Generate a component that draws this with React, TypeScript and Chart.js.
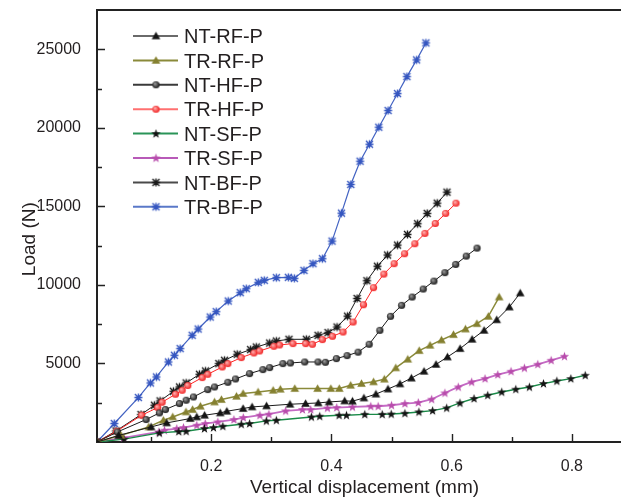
import React, { useEffect, useRef } from 'react';
import { Chart, registerables } from 'chart.js';

Chart.register(...registerables);

// ---------- data ----------
const seriesNames = ['NT-RF-P', 'TR-RF-P', 'NT-HF-P', 'TR-HF-P', 'NT-SF-P', 'TR-SF-P', 'NT-BF-P', 'TR-BF-P'];

const ntRfX = [0.01, 0.046, 0.1, 0.126, 0.165, 0.176, 0.189, 0.215, 0.226, 0.253, 0.268, 0.292, 0.331, 0.357, 0.378, 0.396, 0.422, 0.435, 0.454, 0.474, 0.494, 0.514, 0.533, 0.554, 0.574, 0.593, 0.614, 0.634, 0.654, 0.675, 0.696, 0.714];
const ntRfY = [0, 420, 960, 1215, 1494, 1596, 1704, 1851, 1959, 2130, 2232, 2296, 2404, 2448, 2486, 2550, 2614, 2600, 2804, 3050, 3370, 3700, 4070, 4500, 4940, 5412, 5946, 6537, 7109, 7780, 8591, 9481];

const trRfX = [0.01, 0.05, 0.096, 0.1205, 0.136, 0.158, 0.169, 0.182, 0.2055, 0.217, 0.242, 0.253, 0.278, 0.303, 0.315, 0.339, 0.377, 0.399, 0.413, 0.432, 0.45, 0.47, 0.488, 0.507, 0.527, 0.546, 0.564, 0.583, 0.603, 0.623, 0.642, 0.661, 0.679];
const trRfY = [0, 420, 960, 1386, 1596, 1914, 2067, 2277, 2550, 2703, 2912, 3084, 3186, 3294, 3358, 3402, 3402, 3402, 3402, 3612, 3720, 3830, 4000, 4720, 5270, 5820, 6155, 6490, 6836, 7190, 7535, 8000, 9227];

const ntHfX = [0.01, 0.044, 0.0917, 0.1138, 0.1238, 0.1472, 0.1583, 0.1705, 0.1943, 0.2055, 0.2277, 0.2405, 0.2638, 0.286, 0.2972, 0.3193, 0.3317, 0.3555, 0.3777, 0.39, 0.4083, 0.426, 0.4443, 0.4627, 0.4805, 0.4983, 0.5167, 0.5343, 0.5527, 0.5705, 0.5888, 0.6067, 0.6243, 0.6422];
const ntHfY = [0, 640, 1431, 1851, 2067, 2448, 2658, 2868, 3338, 3504, 3803, 4012, 4356, 4610, 4737, 4992, 5030, 5094, 5094, 5075, 5310, 5500, 5720, 6219, 7109, 8000, 8699, 9227, 9736, 10244, 10779, 11306, 11834, 12343];

const trHfX = [0.01, 0.0427, 0.0843, 0.111, 0.1183, 0.1405, 0.1517, 0.161, 0.185, 0.1943, 0.2183, 0.2277, 0.25, 0.271, 0.2805, 0.3043, 0.3138, 0.336, 0.3572, 0.3683, 0.385, 0.4017, 0.4193, 0.436, 0.4533, 0.47, 0.4872, 0.5043, 0.5217, 0.5388, 0.5555, 0.5727, 0.59, 0.6072];
const trHfY = [0, 687, 1704, 2194, 2531, 3040, 3294, 3593, 4101, 4311, 4776, 4992, 5373, 5666, 5793, 6092, 6175, 6264, 6264, 6219, 6518, 6728, 7001, 7637, 8740, 9825, 10690, 11351, 11987, 12623, 13278, 13913, 14550, 15205];

const ntSfX = [0.01, 0.055, 0.1138, 0.146, 0.1583, 0.1888, 0.2038, 0.2193, 0.25, 0.2638, 0.2917, 0.3083, 0.3667, 0.3805, 0.4127, 0.425, 0.4555, 0.4845, 0.4995, 0.5222, 0.5455, 0.5683, 0.5917, 0.6138, 0.6372, 0.66, 0.6833, 0.7067, 0.7293, 0.7527, 0.775, 0.7983, 0.8222];
const ntSfY = [0, 180, 579, 668, 687, 858, 922, 1005, 1132, 1176, 1342, 1386, 1596, 1641, 1704, 1704, 1760, 1760, 1780, 1830, 1914, 2000, 2168, 2486, 2766, 2976, 3186, 3358, 3504, 3720, 3886, 4038, 4248];

const trSfX = [0.01, 0.054, 0.1128, 0.1222, 0.1427, 0.1538, 0.176, 0.19, 0.211, 0.2377, 0.2533, 0.281, 0.296, 0.3238, 0.3517, 0.3655, 0.3933, 0.4088, 0.435, 0.4655, 0.4777, 0.5, 0.5222, 0.5445, 0.5667, 0.5888, 0.611, 0.6333, 0.6555, 0.6767, 0.6988, 0.721, 0.7433, 0.7655, 0.7877];
const trSfY = [0, 261, 642, 750, 858, 922, 1068, 1176, 1278, 1431, 1558, 1704, 1768, 1978, 2067, 2067, 2168, 2194, 2232, 2277, 2277, 2340, 2448, 2512, 2722, 3122, 3504, 3822, 4038, 4292, 4502, 4712, 4947, 5202, 5456];

const ntBfX = [0.01, 0.0417, 0.0833, 0.1055, 0.115, 0.1372, 0.1472, 0.1583, 0.1805, 0.1905, 0.2127, 0.2222, 0.2433, 0.2655, 0.275, 0.2972, 0.3083, 0.3293, 0.3583, 0.3777, 0.3943, 0.4093, 0.4268, 0.4427, 0.459, 0.4765, 0.4933, 0.51, 0.5265, 0.5433, 0.5593, 0.576, 0.5922];
const ntBfY = [0, 706, 1749, 2340, 2614, 3230, 3504, 3758, 4311, 4521, 4992, 5202, 5583, 5882, 6047, 6302, 6429, 6537, 6537, 6791, 6963, 7319, 8010, 9135, 10266, 11190, 11900, 12534, 13214, 13894, 14550, 15205, 15904];

const trBfX = [0.01, 0.0388, 0.0788, 0.0988, 0.1088, 0.1288, 0.1388, 0.1483, 0.1683, 0.1783, 0.1983, 0.2083, 0.2283, 0.2483, 0.2583, 0.2783, 0.2883, 0.3083, 0.3283, 0.3383, 0.3543, 0.3693, 0.385, 0.401, 0.4167, 0.4322, 0.4477, 0.4633, 0.4788, 0.4943, 0.51, 0.5255, 0.5417, 0.5572];
const trBfY = [0, 1176, 2830, 3758, 4140, 5094, 5520, 5946, 6792, 7192, 7955, 8298, 8973, 9507, 9761, 10162, 10289, 10461, 10480, 10416, 10925, 11351, 11669, 12788, 14569, 16394, 17875, 18956, 20037, 21099, 22180, 23261, 24323, 25404];

const xTickValues = [0.1, 0.2, 0.3, 0.4, 0.5, 0.6, 0.7, 0.8];
const xTickLabelled = [0.2, 0.4, 0.6, 0.8];
const yTickValues = [2500, 5000, 7500, 10000, 12500, 15000, 17500, 20000, 22500, 25000];
const yTickLabelled = [5000, 10000, 15000, 20000, 25000];

const xTitle = 'Vertical displacement (mm)';
const yTitle = 'Load (N)';

// ---------- styles ----------
const FONT = '"Liberation Sans", Arial, Helvetica, sans-serif';
const TEXT = '#231f20';

type MarkerKind = 'triangle' | 'sphere' | 'star' | 'asterisk';

function makeMarker(kind: MarkerKind, color: string, hi?: string): HTMLCanvasElement {
  const c = document.createElement('canvas');
  c.width = 11;
  c.height = 11;
  const g = c.getContext('2d')!;
  const cx = 5.5, cy = 5.5;
  if (kind === 'triangle') {
    g.beginPath();
    g.moveTo(cx, cy - 4.3);
    g.lineTo(cx + 4.3, cy + 3.3);
    g.lineTo(cx - 4.3, cy + 3.3);
    g.closePath();
    g.fillStyle = color;
    g.fill();
  } else if (kind === 'sphere') {
    const grad = g.createRadialGradient(cx - 1.2, cy - 1.2, 0.3, cx, cy, 3.8);
    grad.addColorStop(0, hi || '#aaa');
    grad.addColorStop(1, color);
    g.beginPath();
    g.arc(cx, cy, 3.6, 0, Math.PI * 2);
    g.fillStyle = grad;
    g.fill();
  } else if (kind === 'star') {
    const R = 4.8, r = 2.0;
    g.beginPath();
    for (let i = 0; i < 10; i++) {
      const ang = -Math.PI / 2 + (i * Math.PI) / 5;
      const rad = i % 2 === 0 ? R : r;
      const px = cx + rad * Math.cos(ang);
      const py = cy + 0.3 + rad * Math.sin(ang);
      if (i === 0) g.moveTo(px, py);
      else g.lineTo(px, py);
    }
    g.closePath();
    g.fillStyle = color;
    g.fill();
  } else {
    g.strokeStyle = color;
    g.lineWidth = 1.4;
    const a = 3.5;
    g.beginPath();
    g.moveTo(cx - a, cy - a); g.lineTo(cx + a, cy + a);
    g.moveTo(cx + a, cy - a); g.lineTo(cx - a, cy + a);
    g.moveTo(cx - a - 0.5, cy); g.lineTo(cx + a + 0.5, cy);
    g.moveTo(cx, cy - a - 0.5); g.lineTo(cx, cy + a + 0.5);
    g.stroke();
  }
  return c;
}

const seriesX = [ntRfX, trRfX, ntHfX, trHfX, ntSfX, trSfX, ntBfX, trBfX];
const seriesY = [ntRfY, trRfY, ntHfY, trHfY, ntSfY, trSfY, ntBfY, trBfY];
const lineColors = ['#1a1a1a', '#8a8a3a', '#1a1a1a', '#ff2424', '#1a8a48', '#c46ac4', '#1a1a1a', '#4262c2'];
const legendLineColors = ['#6a6a6a', '#8a8a3a', '#3a3a3a', '#ff7070', '#2a9458', '#b85ab8', '#4a4a4a', '#5a78c8'];
const lineWidths = [1, 1.5, 1, 1, 1.4, 1.8, 1, 1.2];
const markerSpecs: [MarkerKind, string, string?][] = [
  ['triangle', '#141414'],
  ['triangle', '#858030'],
  ['sphere', '#111111', '#9a9a9a'],
  ['sphere', '#f01818', '#ffb0b0'],
  ['star', '#141414'],
  ['star', '#b84cac'],
  ['asterisk', '#1a1a1a'],
  ['asterisk', '#3556c0'],
];

const framePlugin = {
  id: 'frameTicks',
  beforeDatasetsDraw(chart: any) {
    const { ctx, chartArea } = chart;
    const { left, right, top, bottom } = chartArea;
    const xs = chart.scales.x;
    const ys = chart.scales.y;
    ctx.save();
    ctx.strokeStyle = '#222';
    ctx.lineWidth = 2;
    ctx.beginPath();
    ctx.moveTo(right, top);
    ctx.lineTo(left, top);
    ctx.lineTo(left, bottom);
    ctx.lineTo(right, bottom);
    ctx.stroke();
    ctx.lineWidth = 1.4;
    ctx.beginPath();
    xs.ticks.forEach((t: any) => {
      const px = Math.round(xs.getPixelForValue(t.value)) + 0.5;
      const len = xTickLabelled.includes(t.value) ? 8 : 5;
      ctx.moveTo(px, bottom);
      ctx.lineTo(px, bottom - len);
    });
    ys.ticks.forEach((t: any) => {
      const py = Math.round(ys.getPixelForValue(t.value)) + 0.5;
      const len = yTickLabelled.includes(t.value) ? 8 : 5;
      ctx.moveTo(left, py);
      ctx.lineTo(left + len, py);
    });
    ctx.stroke();
    ctx.restore();
  },
};

function makeLegendPlugin(markers: HTMLCanvasElement[]) {
  return {
    id: 'innerLegend',
    afterDatasetsDraw(chart: any) {
      const { ctx, chartArea } = chart;
      const { left, top } = chartArea;
      ctx.save();
      ctx.font = `20px ${FONT}`;
      ctx.textBaseline = 'alphabetic';
      ctx.textAlign = 'left';
      seriesNames.forEach((name, i) => {
        const y = top + 26 + i * 24.4;
        ctx.strokeStyle = legendLineColors[i];
        ctx.lineWidth = 2;
        ctx.beginPath();
        ctx.moveTo(left + 36, y);
        ctx.lineTo(left + 81, y);
        ctx.stroke();
        const m = markers[i];
        ctx.drawImage(m, left + 59 - m.width / 2, y - m.height / 2);
        ctx.fillStyle = TEXT;
        ctx.fillText(name, left + 87, y + 7.2);
      });
      ctx.restore();
    },
  };
}

export default function App() {
  const ref = useRef<HTMLCanvasElement | null>(null);

  useEffect(() => {
    const canvas = ref.current;
    if (!canvas) return;
    const markers = markerSpecs.map(([k, c, h]) => makeMarker(k, c, h));
    const datasets = seriesNames.map((name, i) => ({
      label: name,
      data: seriesX[i].map((x, j) => ({ x, y: seriesY[i][j] })),
      borderColor: lineColors[i],
      backgroundColor: lineColors[i],
      borderWidth: lineWidths[i],
      pointStyle: markers[i] as any,
      pointRadius: 5,
      pointHoverRadius: 5,
      tension: 0,
      fill: false,
    }));

    const chart = new Chart(canvas, {
      type: 'line',
      data: { datasets },
      options: {
        responsive: false,
        animation: false,
        devicePixelRatio: 1,
        events: [],
        layout: { padding: { top: 10, right: 8, left: 0, bottom: 0 } },
        plugins: {
          legend: { display: false },
          tooltip: { enabled: false },
        },
        scales: {
          x: {
            type: 'linear',
            min: 0.01,
            max: 0.9,
            afterBuildTicks: (s: any) => {
              s.ticks = xTickValues.map((v) => ({ value: v }));
            },
            afterFit: (s: any) => {
              s.height = 57;
              s.paddingLeft = 0;
              s.paddingRight = 0;
            },
            grid: { display: false },
            border: { display: false },
            ticks: {
              autoSkip: false,
              maxRotation: 0,
              padding: 7,
              color: TEXT,
              font: { size: 16, family: FONT },
              callback: (v: any) => (xTickLabelled.includes(v) ? Number(v).toFixed(1) : ''),
            },
            title: {
              display: true,
              text: xTitle,
              color: TEXT,
              font: { size: 19, family: FONT, lineHeight: 1.2 },
              padding: { top: 0, bottom: 0 },
            },
          },
          y: {
            type: 'linear',
            min: 0,
            max: 27500,
            afterBuildTicks: (s: any) => {
              s.ticks = yTickValues.map((v) => ({ value: v }));
            },
            afterFit: (s: any) => {
              s.width = 97;
              s.paddingTop = 0;
              s.paddingBottom = 0;
            },
            grid: { display: false },
            border: { display: false },
            ticks: {
              autoSkip: false,
              padding: 8,
              color: TEXT,
              font: { size: 16, family: FONT },
              callback: (v: any) => (yTickLabelled.includes(v) ? String(v) : ''),
            },
            title: {
              display: true,
              text: yTitle + '     ',
              color: TEXT,
              font: { size: 19, family: FONT, lineHeight: 1.2 },
              padding: { top: 18, bottom: 0 },
            },
          },
        },
      } as any,
      plugins: [framePlugin, makeLegendPlugin(markers)],
    });
    return () => chart.destroy();
  }, []);

  return (
    <div
      style={{
        position: 'absolute',
        left: 0,
        top: 0,
        width: 621,
        height: 499,
        overflow: 'hidden',
        background: '#fff',
      }}
    >
      <canvas ref={ref} width={640} height={499} style={{ width: 640, height: 499, display: 'block' }} />
    </div>
  );
}
